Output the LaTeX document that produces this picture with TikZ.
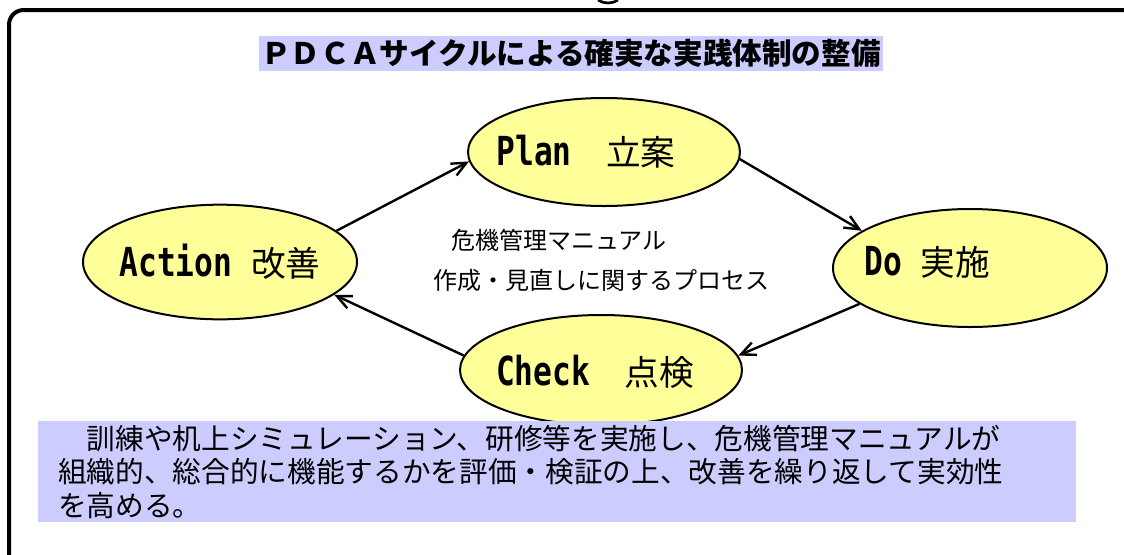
\documentclass[tikz,border=0pt]{standalone}
\usepackage{fontspec}
\setmainfont{Noto Sans CJK JP}
\newfontfamily\labfont{DejaVu Sans Mono}[FakeStretch=0.78]
\usetikzlibrary{positioning, shapes.geometric, arrows.meta}
\definecolor{notebg}{RGB}{204,204,255}
\definecolor{phasebg}{RGB}{255,255,153}
\newcommand{\phaseword}[1]{{\labfont\bfseries\fontsize{30}{30}\selectfont #1}}
\tikzset{
	phase/.style={draw, ellipse, line width=1.5pt, fill=phasebg, inner sep=0pt, minimum width=205.5pt, minimum height=86pt},
	phaselabel/.style={inner sep=0pt, font=\fontsize{26}{30}\selectfont},
	% title strip and note box
	heading/.style={fill=notebg, inner xsep=2pt, inner ysep=2.5pt, font=\bfseries\fontsize{22.2}{24}\selectfont},
	notebox/.style={fill=notebg, inner xsep=15pt, inner ysep=0pt, text width=748pt, minimum height=75.75pt, align=left, font=\fontsize{21.5}{25}\selectfont},
	process/.style={inner sep=0pt, font=\fontsize{18}{22}\selectfont},
}

\begin{document}
\begin{tikzpicture}[x=0.75pt, y=-0.75pt]
	\useasboundingbox (0,0) rectangle (1124,554);
	\clip (0,0) rectangle (1124,554);
	
	\draw[line width=3pt, rounded corners=11pt] (9,590) -- (9,10) -- (1140,10) -- (1140,590);
	\draw[line width=2pt] (598,0) .. controls (604,4) and (612,4) .. (618,0);
	
	\node (title) [heading] at (571,53.5) {ＰＤＣＡサイクルによる確実な実践体制の整備};
	
	\node (act) [phase] at (220,262) {};
	\node (plan) [phase, minimum width=204pt, minimum height=81pt] at (604,152) {};
	\node (do) [phase, minimum height=88.5pt] at (970,268) {};
	\node (check) [phase, minimum width=211.5pt, minimum height=82.5pt] at (601,370) {};
	
	\node (acttext) [phaselabel] at (act) {\phaseword{Action\ }改善};
	\node (plantext) [phaselabel, xshift=-13.5pt] at (plan) {\phaseword{Plan}　立案};
	\node (dotext) [phaselabel, xshift=-32pt, yshift=4.5pt] at (do) {\phaseword{Do\ }実施};
	\node (checktext) [phaselabel, xshift=-4.5pt, yshift=-1.5pt] at (check) {\phaseword{Check}　点検};
	
	\node (manual) [process] at (559,240) {危機管理マニュアル};
	\node (revise) [process] at (601,280) {作成・見直しに関するプロセス};
	
	\node (note) [notebox, anchor=north west] at (38,421) {　訓練や机上シミュレーション、研修等を実施し、危機管理マニュアルが\\組織的、総合的に機能するかを評価・検証の上、改善を繰り返して実効性\\を高める。};
	
	\begin{scope}[line width=1.8pt, -{Straight Barb[length=11pt, width=10pt]}]
		\draw (act.15) -- (plan.184);
		\draw (plan.357) -- (do.161);
		\draw (do.198) -- (check.6);
		\draw (check.174) -- (act.344);
	\end{scope}
\end{tikzpicture}
\end{document}
